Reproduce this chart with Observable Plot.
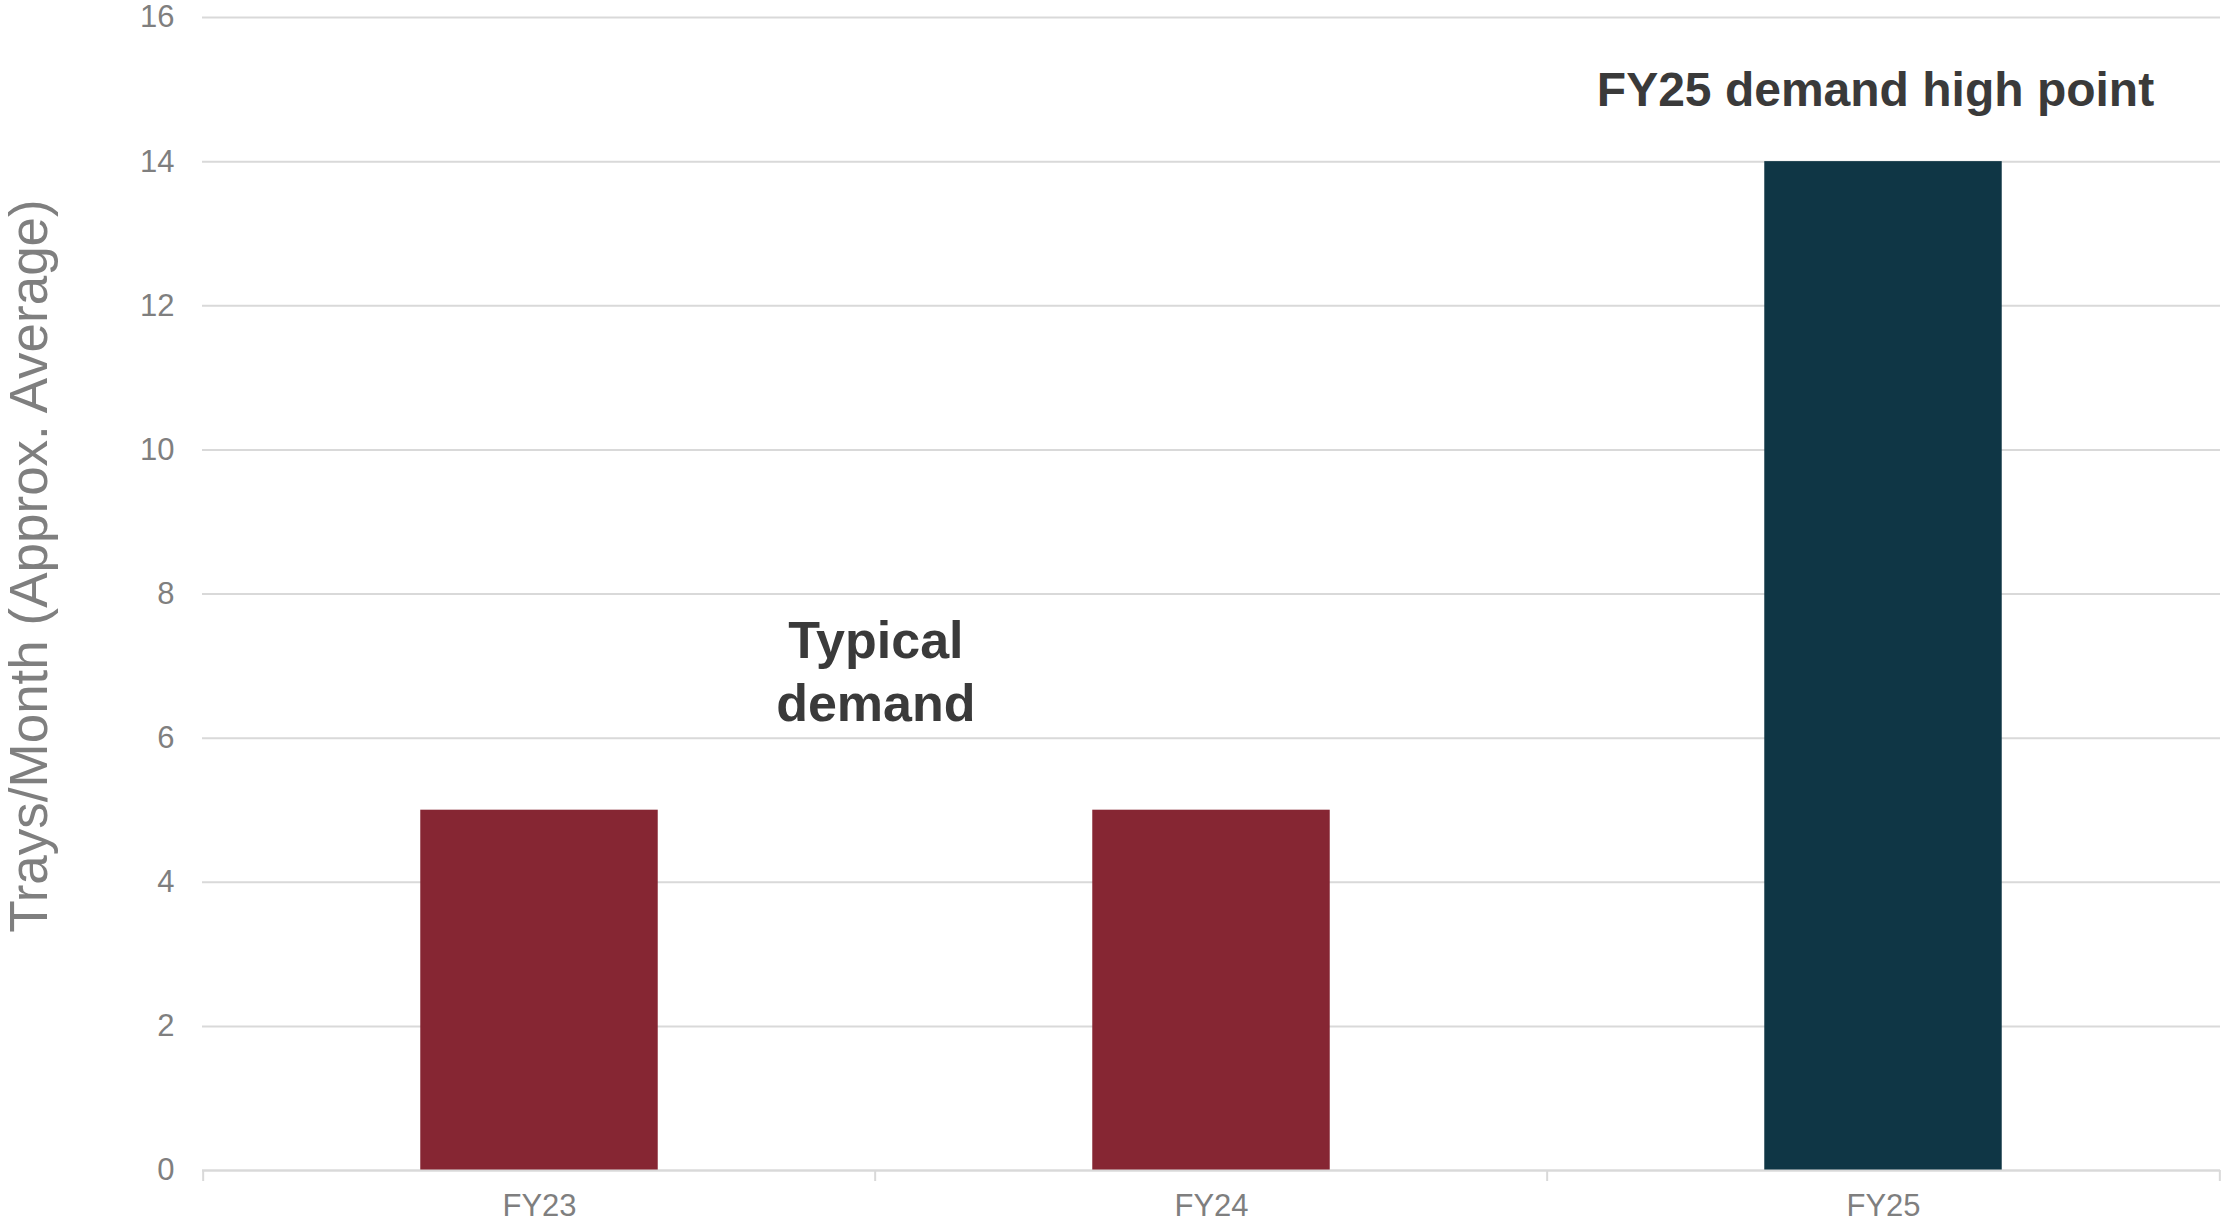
<!DOCTYPE html>
<html><head><meta charset="utf-8">
<script src="https://cdn.jsdelivr.net/npm/d3@7"></script>
<script src="https://cdn.jsdelivr.net/npm/@observablehq/plot@0.6"></script>
<style>html,body{margin:0;padding:0;background:#fff} svg{display:block}</style>
</head><body><div id="chart"></div>
<script>
const categories = ["FY23", "FY24", "FY25"];
const values = [5, 5, 14];
const barColors = ["#862633", "#862633", "#0f3645"];
const yTicks = [0, 2, 4, 6, 8, 10, 12, 14, 16];
const yLabel = "Trays/Month (Approx. Average)";
const noteTypical = [{cat: "FY23", y: 6.95, text: "Typical\ndemand"}];
const noteHigh = [{cat: "FY25", y: 14.98, text: "FY25 demand high point"}];

const W = 2222, H = 1224, mL = 202, mR = 2, mT = 17, mB = 54;
const step = (W - mL - mR) / categories.length;
const barFrac = 0.354;
const inset = step * (1 - barFrac) / 2;
const data = categories.map((c, i) => ({cat: c, value: values[i], color: barColors[i]}));
const grey = "#7f7f7f", lineC = "#d9d9d9", noteC = "#3a3a3a";

const chart = Plot.plot({
  width: W, height: H,
  marginLeft: mL, marginRight: mR, marginTop: mT, marginBottom: mB,
  style: {fontFamily: "'Liberation Sans', Arial, sans-serif", background: "#fff", overflow: "visible"},
  x: {domain: categories, padding: 0, label: null},
  y: {domain: [0, 16], label: null},
  marks: [
    Plot.gridY(yTicks, {stroke: lineC, strokeOpacity: 1, strokeWidth: 2}),
    Plot.axisY(yTicks, {tickSize: 0, tickPadding: 28, fontSize: 31, fill: grey, label: null, tickFormat: (d) => String(d)}),
    Plot.barY(data, {x: "cat", y: "value", fill: "color", insetLeft: inset, insetRight: inset}),
    Plot.ruleY([0], {stroke: lineC, strokeWidth: 2}),
    Plot.axisX({tickSize: 0, tickPadding: 23, fontSize: 31, fill: grey, label: null}),
    Plot.axisX(categories, {tickSize: 11, tickFormat: () => "", stroke: lineC, strokeWidth: 2, dx: -step / 2, label: null}),
    Plot.axisX([categories[categories.length - 1]], {tickSize: 11, tickFormat: () => "", stroke: lineC, strokeWidth: 2, dx: step / 2, label: null}),
    Plot.text([yLabel], {frameAnchor: "left", textAnchor: "middle", rotate: -90, dx: -172, dy: -28, fontSize: 53, fill: grey}),
    Plot.text(noteTypical, {x: "cat", y: "y", text: "text", dx: step / 2, fontSize: 52, fontWeight: "bold", fill: noteC, lineHeight: 1.21}),
    Plot.text(noteHigh, {x: "cat", y: "y", text: "text", dx: -8, fontSize: 48, fontWeight: "bold", fill: noteC})
  ]
});
document.getElementById("chart").appendChild(chart);
</script>
</body></html>
